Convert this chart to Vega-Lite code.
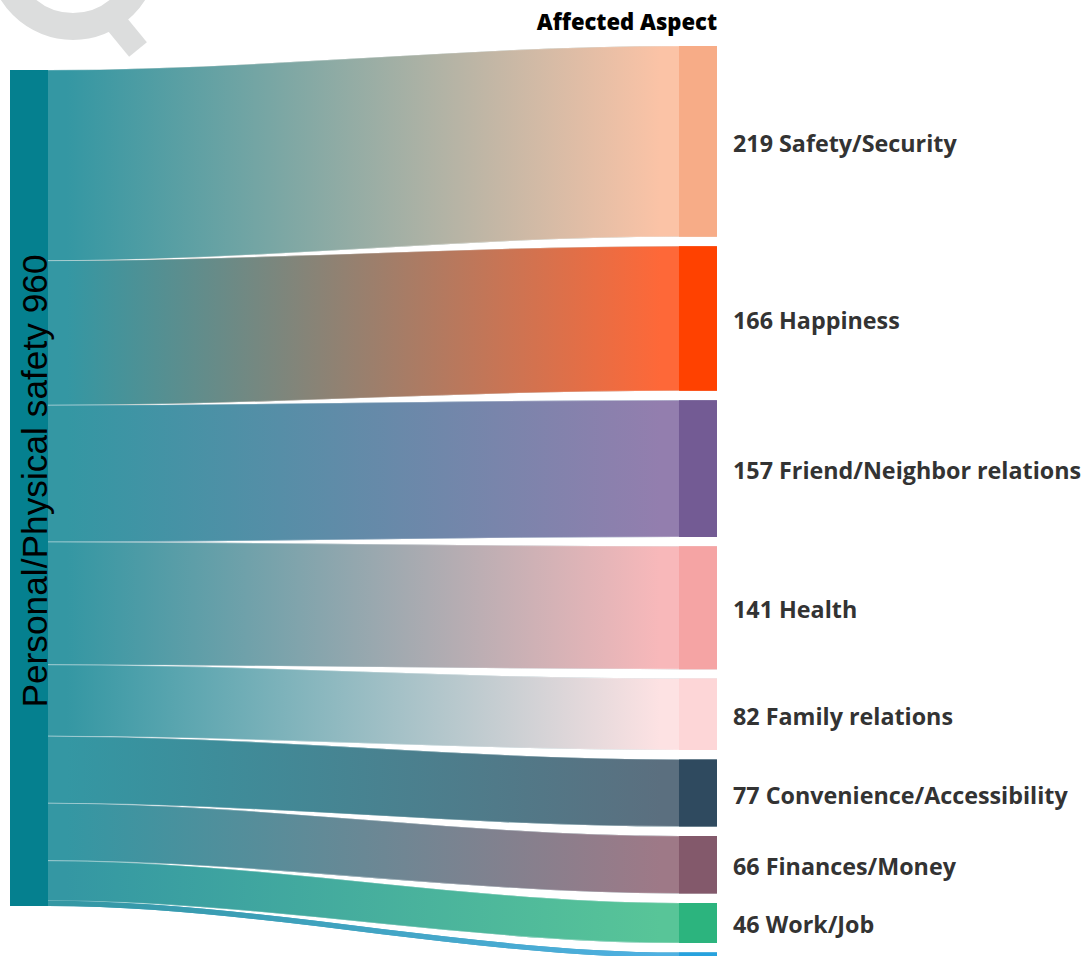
{
  "$schema": "https://vega.github.io/schema/vega-lite/v6.json",
  "width": 1086,
  "height": 956,
  "padding": 0,
  "autosize": {"type": "none"},
  "background": "white",
  "config": {"view": {"stroke": null}},
  "data": {"values": [
    {"aspect": "Safety/Security", "count": 219, "order": 0},
    {"aspect": "Happiness", "count": 166, "order": 1},
    {"aspect": "Friend/Neighbor relations", "count": 157, "order": 2},
    {"aspect": "Health", "count": 141, "order": 3},
    {"aspect": "Family relations", "count": 82, "order": 4},
    {"aspect": "Convenience/Accessibility", "count": 77, "order": 5},
    {"aspect": "Finances/Money", "count": 66, "order": 6},
    {"aspect": "Work/Job", "count": 46, "order": 7},
    {"aspect": "Other", "count": 6, "order": 8}
  ]},
  "transform": [
    {"window": [{"op": "sum", "field": "count", "as": "cum"}], "sort": [{"field": "order"}], "frame": [null, 0]},
    {"calculate": "datum.cum - datum.count", "as": "s0"},
    {"calculate": "datum.s0 + datum.order * 10.87 - 27.6", "as": "t0"},
    {"calculate": "datum.t0 + datum.count", "as": "t1"},
    {"calculate": "(datum.t0 + datum.t1) / 2", "as": "mid"},
    {"calculate": "datum.count + ' ' + datum.aspect", "as": "label"},
    {"calculate": "[{k:0,x:-0.06022,top:datum.s0,bot:datum.cum},{k:1,x:0,top:datum.s0,bot:datum.cum},{k:2,x:1,top:datum.t0,bot:datum.t1},{k:3,x:1.06022,top:datum.t0,bot:datum.t1}]", "as": "pts"},
    {"flatten": ["pts"]},
    {"calculate": "datum.pts.k", "as": "pk"},
    {"calculate": "datum.pts.x", "as": "px"},
    {"calculate": "datum.pts.top", "as": "ptop"},
    {"calculate": "datum.pts.bot", "as": "pbot"}
  ],
  "layer": [
    {
      "mark": {"type": "area", "interpolate": "monotone"},
      "encoding": {
        "x": {"field": "px", "type": "quantitative", "scale": {"domain": [-0.07607, 1.64501], "nice": false, "zero": false}, "axis": null},
        "y": {"field": "ptop", "type": "quantitative", "scale": {"domain": [-80.383, 1017.42], "nice": false, "zero": false, "reverse": true}, "axis": null},
        "y2": {"field": "pbot"},
        "fill": {"field": "aspect", "type": "nominal", "legend": null,
          "scale": {"domain": ["Safety/Security", "Happiness", "Friend/Neighbor relations", "Health", "Family relations", "Convenience/Accessibility", "Finances/Money", "Work/Job", "Other"],
                    "range": ["#97ada4", "#997f6d", "#638aa8", "#96a7ae", "#98bcc3", "#478391", "#698895", "#46ae9d", "#41a4c2"]}}
      }
    },
    {
      "transform": [{"filter": "datum.aspect === 'Safety/Security'"}],
      "mark": {"type": "area", "interpolate": "monotone", "stroke": "white", "strokeWidth": 0.5, "strokeOpacity": 0.7, "color": {"gradient": "linear", "x1": 0, "y1": 0, "x2": 1, "y2": 0, "stops": [{"offset": 0.08, "color": "#3497a3"}, {"offset": 0.92, "color": "#fbc3a6"}]}},
      "encoding": {
        "x": {"field": "px", "type": "quantitative", "axis": null},
        "y": {"field": "ptop", "type": "quantitative", "axis": null},
        "y2": {"field": "pbot"}
      }
    },
    {
      "transform": [{"filter": "datum.aspect === 'Happiness'"}],
      "mark": {"type": "area", "interpolate": "monotone", "stroke": "white", "strokeWidth": 0.5, "strokeOpacity": 0.7, "color": {"gradient": "linear", "x1": 0, "y1": 0, "x2": 1, "y2": 0, "stops": [{"offset": 0.08, "color": "#3497a3"}, {"offset": 0.92, "color": "#fe6838"}]}},
      "encoding": {
        "x": {"field": "px", "type": "quantitative", "axis": null},
        "y": {"field": "ptop", "type": "quantitative", "axis": null},
        "y2": {"field": "pbot"}
      }
    },
    {
      "transform": [{"filter": "datum.aspect === 'Friend/Neighbor relations'"}],
      "mark": {"type": "area", "interpolate": "monotone", "stroke": "white", "strokeWidth": 0.5, "strokeOpacity": 0.7, "color": {"gradient": "linear", "x1": 0, "y1": 0, "x2": 1, "y2": 0, "stops": [{"offset": 0.08, "color": "#3497a3"}, {"offset": 0.92, "color": "#937eae"}]}},
      "encoding": {
        "x": {"field": "px", "type": "quantitative", "axis": null},
        "y": {"field": "ptop", "type": "quantitative", "axis": null},
        "y2": {"field": "pbot"}
      }
    },
    {
      "transform": [{"filter": "datum.aspect === 'Health'"}],
      "mark": {"type": "area", "interpolate": "monotone", "stroke": "white", "strokeWidth": 0.5, "strokeOpacity": 0.7, "color": {"gradient": "linear", "x1": 0, "y1": 0, "x2": 1, "y2": 0, "stops": [{"offset": 0.08, "color": "#3497a3"}, {"offset": 0.92, "color": "#f8b8ba"}]}},
      "encoding": {
        "x": {"field": "px", "type": "quantitative", "axis": null},
        "y": {"field": "ptop", "type": "quantitative", "axis": null},
        "y2": {"field": "pbot"}
      }
    },
    {
      "transform": [{"filter": "datum.aspect === 'Family relations'"}],
      "mark": {"type": "area", "interpolate": "monotone", "stroke": "white", "strokeWidth": 0.5, "strokeOpacity": 0.7, "color": {"gradient": "linear", "x1": 0, "y1": 0, "x2": 1, "y2": 0, "stops": [{"offset": 0.08, "color": "#3497a3"}, {"offset": 0.92, "color": "#fde2e3"}]}},
      "encoding": {
        "x": {"field": "px", "type": "quantitative", "axis": null},
        "y": {"field": "ptop", "type": "quantitative", "axis": null},
        "y2": {"field": "pbot"}
      }
    },
    {
      "transform": [{"filter": "datum.aspect === 'Convenience/Accessibility'"}],
      "mark": {"type": "area", "interpolate": "monotone", "stroke": "white", "strokeWidth": 0.5, "strokeOpacity": 0.7, "color": {"gradient": "linear", "x1": 0, "y1": 0, "x2": 1, "y2": 0, "stops": [{"offset": 0.08, "color": "#3497a3"}, {"offset": 0.92, "color": "#5b6f7f"}]}},
      "encoding": {
        "x": {"field": "px", "type": "quantitative", "axis": null},
        "y": {"field": "ptop", "type": "quantitative", "axis": null},
        "y2": {"field": "pbot"}
      }
    },
    {
      "transform": [{"filter": "datum.aspect === 'Finances/Money'"}],
      "mark": {"type": "area", "interpolate": "monotone", "stroke": "white", "strokeWidth": 0.5, "strokeOpacity": 0.7, "color": {"gradient": "linear", "x1": 0, "y1": 0, "x2": 1, "y2": 0, "stops": [{"offset": 0.08, "color": "#3497a3"}, {"offset": 0.92, "color": "#9e7987"}]}},
      "encoding": {
        "x": {"field": "px", "type": "quantitative", "axis": null},
        "y": {"field": "ptop", "type": "quantitative", "axis": null},
        "y2": {"field": "pbot"}
      }
    },
    {
      "transform": [{"filter": "datum.aspect === 'Work/Job'"}],
      "mark": {"type": "area", "interpolate": "monotone", "stroke": "white", "strokeWidth": 0.5, "strokeOpacity": 0.7, "color": {"gradient": "linear", "x1": 0, "y1": 0, "x2": 1, "y2": 0, "stops": [{"offset": 0.08, "color": "#3497a3"}, {"offset": 0.92, "color": "#58c598"}]}},
      "encoding": {
        "x": {"field": "px", "type": "quantitative", "axis": null},
        "y": {"field": "ptop", "type": "quantitative", "axis": null},
        "y2": {"field": "pbot"}
      }
    },
    {
      "transform": [{"filter": "datum.aspect === 'Other'"}],
      "mark": {"type": "area", "interpolate": "monotone", "color": {"gradient": "linear", "x1": 0, "y1": 0, "x2": 1, "y2": 0, "stops": [{"offset": 0.08, "color": "#3497a3"}, {"offset": 0.92, "color": "#4fb1e2"}]}},
      "encoding": {
        "x": {"field": "px", "type": "quantitative", "axis": null},
        "y": {"field": "ptop", "type": "quantitative", "axis": null},
        "y2": {"field": "pbot"}
      }
    },
    {
      "transform": [{"filter": "datum.pk === 0"}],
      "mark": {"type": "rect"},
      "encoding": {
        "x": {"datum": 1, "type": "quantitative", "axis": null},
        "x2": {"datum": 1.06022},
        "y": {"field": "t0", "type": "quantitative", "axis": null},
        "y2": {"field": "t1"},
        "color": {"field": "aspect", "type": "nominal", "legend": null,
          "scale": {"domain": ["Safety/Security", "Happiness", "Friend/Neighbor relations", "Health", "Family relations", "Convenience/Accessibility", "Finances/Money", "Work/Job", "Other"],
                    "range": ["#f7ac87", "#ff4100", "#735b94", "#f5a4a4", "#fdd6d7", "#2f4a5f", "#83596b", "#2cb47e", "#27a2de"]}}
      }
    },
    {
      "transform": [{"filter": "datum.pk === 0 && datum.aspect !== 'Other'"}],
      "mark": {"type": "text", "align": "left", "baseline": "middle", "dx": 16, "dy": 3.5, "font": "Open Sans", "fontWeight": "bold", "fontSize": 23.3, "color": "#333333"},
      "encoding": {
        "x": {"datum": 1.06022, "type": "quantitative", "axis": null},
        "y": {"field": "mid", "type": "quantitative", "axis": null},
        "text": {"field": "label", "type": "nominal"}
      }
    },
    {
      "data": {"values": [{"name": "Personal/Physical safety", "total": 960}]},
      "mark": {"type": "rect", "color": "#05808f"},
      "encoding": {
        "x": {"datum": -0.06022, "type": "quantitative", "axis": null},
        "x2": {"datum": 0},
        "y": {"field": "total", "type": "quantitative", "axis": null},
        "y2": {"datum": 0}
      }
    },
    {
      "data": {"values": [{"name": "Personal/Physical safety", "total": 960}]},
      "transform": [{"calculate": "datum.name + ' ' + datum.total", "as": "lab"}],
      "mark": {"type": "text", "angle": 270, "align": "center", "baseline": "alphabetic", "font": "Liberation Sans", "fontSize": 35.3, "color": "#000000", "dy": -1, "dx": 7},
      "encoding": {
        "x": {"datum": 0, "type": "quantitative", "axis": null},
        "y": {"datum": 480, "type": "quantitative", "axis": null},
        "text": {"field": "lab", "type": "nominal"}
      }
    },
    {
      "data": {"values": [{"t": "Affected Aspect"}]},
      "mark": {"type": "text", "align": "right", "baseline": "alphabetic", "font": "Open Sans", "fontWeight": 800, "fontSize": 22, "color": "#000000"},
      "encoding": {
        "x": {"datum": 1.06022, "type": "quantitative", "axis": null},
        "y": {"datum": -45.93, "type": "quantitative", "axis": null},
        "text": {"field": "t", "type": "nominal"}
      }
    },
    {
      "data": {"values": [{"t": "Q"}]},
      "mark": {"type": "point", "shape": "circle", "filled": false, "stroke": "#dcdddd", "strokeWidth": 27, "size": 20449, "opacity": 1},
      "encoding": {
        "x": {"datum": 0.03962, "type": "quantitative", "axis": null},
        "y": {"datum": -132.06, "type": "quantitative", "axis": null}
      }
    },
    {
      "data": {"values": [{"t": "Q"}]},
      "mark": {"type": "rule", "stroke": "#dcdddd", "strokeWidth": 23, "strokeCap": "butt"},
      "encoding": {
        "x": {"datum": 0.0951, "type": "quantitative", "axis": null},
        "y": {"datum": -65.46, "type": "quantitative", "axis": null},
        "x2": {"datum": 0.14263},
        "y2": {"datum": -23.54}
      }
    }
  ]
}
